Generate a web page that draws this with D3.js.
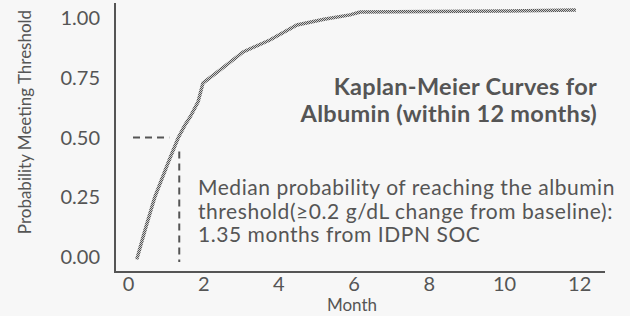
<html lang="en">
<head>
	<script src="https://cdn.jsdelivr.net/npm/d3@7/dist/d3.min.js"></script>
	<style>
		body { margin: 0; background: #f7f7f7; }
		text { font-family: Lato, sans-serif; fill: #555; }
	</style>
</head>
<body>
	<script type="text/javascript">
		var w = 630;
		var h = 316;

		// KM curve (month, probability)
		var months = [0.22, 0.44, 0.70, 1.05, 1.32, 1.50, 1.64, 1.85, 1.98, 2.43, 3.05, 3.76, 4.48, 5.20, 5.89, 6.16, 8.00, 10.00, 11.90];
		var probs  = [-0.01, 0.113, 0.251, 0.393, 0.498, 0.552, 0.586, 0.649, 0.728, 0.782, 0.858, 0.908, 0.971, 0.995, 1.013, 1.025, 1.027, 1.029, 1.033];
		var xTicks = [0, 2, 4, 6, 8, 10, 12];
		var yTicks = [0, 0.25, 0.5, 0.75, 1];
		var median = 1.35;
		var titleLines = ["Kaplan-Meier Curves for", "Albumin (within 12 months)"];
		var noteLines = ["Median probability of reaching the albumin",
			"threshold(\u22650.2 g/dL change from baseline):",
			"1.35 months from IDPN SOC"];

		var svg = d3.select("body")
				.append("svg")
				.attr("width", w)
				.attr("height", h);

		svg.append("rect").attr("width", w).attr("height", h).attr("fill", "#f7f7f7");

		// checker pattern to mimic the dithered curve
		var pat = svg.append("defs").append("pattern")
			.attr("id", "dither")
			.attr("patternUnits", "userSpaceOnUse")
			.attr("width", 2).attr("height", 2);
		pat.append("rect").attr("width", 2).attr("height", 2).attr("fill", "#cfcfcf");
		pat.append("rect").attr("width", 1).attr("height", 1).attr("fill", "#555");
		pat.append("rect").attr("x", 1).attr("y", 1).attr("width", 1).attr("height", 1).attr("fill", "#555");

		var x = d3.scaleLinear().domain([0, 12]).range([128.5, 579.7]);
		var y = d3.scaleLinear().domain([0, 1]).range([257, 18]);

		// axes (lines only, no tick marks)
		svg.append("line").attr("x1", 115).attr("x2", 115).attr("y1", 3).attr("y2", 273)
			.attr("stroke", "#555").attr("stroke-width", 2);
		svg.append("line").attr("x1", 114).attr("x2", 605).attr("y1", 272).attr("y2", 272)
			.attr("stroke", "#555").attr("stroke-width", 2);

		svg.selectAll(".ytick")
			.data(yTicks)
			.enter()
			.append("text")
			.attr("x", 100)
			.attr("y", function(d){ return y(d); })
			.attr("dy", "0.36em")
			.attr("text-anchor", "end")
			.style("font-size", "20px")
			.text(function(d){ return d3.format(".2f")(d); });

		svg.selectAll(".xtick")
			.data(xTicks)
			.enter()
			.append("text")
			.attr("x", function(d){ return x(d); })
			.attr("y", 291)
			.attr("text-anchor", "middle")
			.style("font-size", "20px")
			.text(function(d){ return d; });

		svg.append("text")
			.attr("x", 352).attr("y", 311)
			.attr("text-anchor", "middle")
			.style("font-size", "17px")
			.text("Month");

		svg.append("text")
			.attr("transform", "translate(31,122) rotate(-90)")
			.attr("text-anchor", "middle")
			.style("font-size", "17px")
			.text("Probability Meeting Threshold");

		// median guide lines
		svg.append("line")
			.attr("x1", x(0.12)).attr("x2", x(median) - 10)
			.attr("y1", y(0.5)).attr("y2", y(0.5))
			.attr("stroke", "#555").attr("stroke-width", 2)
			.attr("stroke-dasharray", "7,5");
		svg.append("line")
			.attr("x1", x(median)).attr("x2", x(median))
			.attr("y1", y(0.5) + 14).attr("y2", y(0) + 5)
			.attr("stroke", "#555").attr("stroke-width", 2)
			.attr("stroke-dasharray", "7,5");

		var line = d3.line()
			.x(function(d){ return x(d[0]); })
			.y(function(d){ return y(d[1]); })
			.curve(d3.curveLinear);

		svg.append("path")
			.datum(d3.zip(months, probs))
			.attr("d", line)
			.attr("fill", "none")
			.attr("stroke", "url(#dither)")
			.attr("stroke-width", 3.5);

		svg.selectAll(".title")
			.data(titleLines)
			.enter()
			.append("text")
			.attr("x", 597)
			.attr("y", function(d, i){ return 95 + i * 27; })
			.attr("text-anchor", "end")
			.style("font-size", "23.5px")
			.style("font-weight", "bold")
			.style("letter-spacing", "0.3px")
			.text(function(d){ return d; });

		svg.selectAll(".note")
			.data(noteLines)
			.enter()
			.append("text")
			.attr("x", 198)
			.attr("y", function(d, i){ return 195 + i * 23.5; })
			.style("font-size", "21px")
			.style("letter-spacing", "0.55px")
			.text(function(d){ return d; });
	</script>
</body>
</html>
